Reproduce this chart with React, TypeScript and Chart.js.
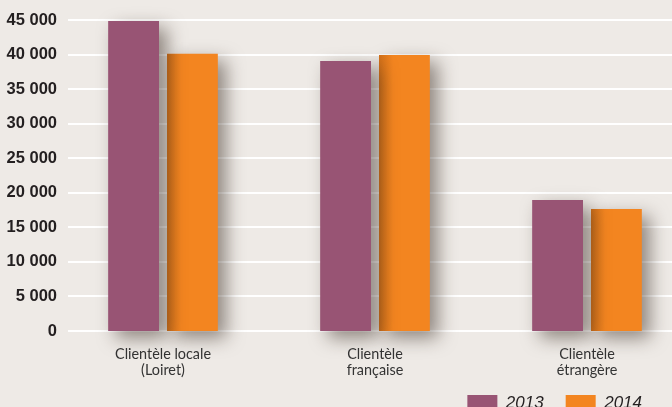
import { useEffect, useRef } from 'react';
import { Chart, registerables } from 'chart.js';

Chart.register(...registerables);

const categories: string[][] = [
  ['Clientèle locale', '(Loiret)'],
  ['Clientèle', 'française'],
  ['Clientèle', 'étrangère'],
];
const values2013 = [44850, 39050, 18950];
const values2014 = [40100, 39950, 17650];
const seriesNames = ['2013', '2014'];
const yMin = 0;
const yMax = 45000;
const yStep = 5000;

const BG = '#EEEAE6';
const PURPLE = '#985474';
const ORANGE = '#F38520';
const TEXT = '#231F20';

const fmt = (v: number) => String(v).replace(/\B(?=(\d{3})+(?!\d))/g, ' ');

const gridPlugin = {
  id: 'customGrid',
  beforeDatasetsDraw(chart: any) {
    const { ctx, scales } = chart;
    const y = scales.y;
    ctx.save();
    ctx.strokeStyle = '#FFFFFF';
    ctx.lineWidth = 2;
    y.ticks.forEach((t: any) => {
      const py = Math.round(y.getPixelForValue(t.value));
      ctx.beginPath();
      ctx.moveTo(68, py);
      ctx.lineTo(chart.width, py);
      ctx.stroke();
    });
    ctx.restore();
  },
};

const shadowPlugin = {
  id: 'barShadow',
  beforeDatasetDraw(chart: any) {
    const ctx = chart.ctx;
    ctx.save();
    ctx.shadowColor = 'rgba(50,35,25,0.5)';
    ctx.shadowBlur = 18;
    ctx.shadowOffsetX = 8;
    ctx.shadowOffsetY = 7;
  },
  afterDatasetDraw(chart: any, args: any) {
    const ctx = chart.ctx;
    ctx.restore();
    if (args.index === 1) {
      const meta = chart.getDatasetMeta(1);
      meta.data.forEach((el: any) => {
        const left = el.x - el.width / 2;
        const g = ctx.createLinearGradient(left, 0, left + 14, 0);
        g.addColorStop(0, 'rgba(90,40,0,0.22)');
        g.addColorStop(1, 'rgba(90,40,0,0)');
        ctx.save();
        ctx.fillStyle = g;
        ctx.fillRect(left, el.y, 14, el.base - el.y);
        ctx.restore();
      });
    }
  },
};

const legendPlace = {
  id: 'legendPlace',
  afterLayout(chart: any) {
    const l = chart.legend;
    if (l) {
      const h = l.height;
      l.right = 664;
      l.top = chart.chartArea.bottom + 41.5;
      l.bottom = l.top + h;
    }
  },
};

export default function App() {
  const ref = useRef<HTMLCanvasElement | null>(null);

  useEffect(() => {
    if (!ref.current) return;
    const chart = new Chart(ref.current, {
      type: 'bar',
      data: {
        labels: categories,
        datasets: [
          {
            label: seriesNames[0],
            data: values2013,
            backgroundColor: PURPLE,
            borderWidth: 0,
            categoryPercentage: 0.555,
            barPercentage: 0.864,
            clip: false as any,
          },
          {
            label: seriesNames[1],
            data: values2014,
            backgroundColor: ORANGE,
            borderWidth: 0,
            categoryPercentage: 0.555,
            barPercentage: 0.864,
            clip: false as any,
          },
        ],
      },
      options: {
        animation: false,
        responsive: false,
        devicePixelRatio: 1,
        layout: { padding: { top: 20, left: 0, right: 7, bottom: 0 } },
        plugins: {
          legend: {
            display: true,
            position: 'bottom',
            align: 'end',
            labels: {
              boxWidth: 30,
              boxHeight: 16,
              padding: 22,
              color: TEXT,
              font: { family: '"Liberation Sans", Arial, sans-serif', size: 17, style: 'italic' },
            },
          },
          tooltip: { enabled: false },
        },
        scales: {
          x: {
            type: 'category',
            offset: true,
            grid: { display: false, drawTicks: false },
            border: { display: false },
            ticks: {
              padding: 15,
              color: '#333333',
              autoSkip: false,
              maxRotation: 0,
              font: { family: 'Lato, "Open Sans", sans-serif', size: 14.4, lineHeight: 16 / 14.4 },
            },
            afterFit: (s: any) => {
              s.height = 60;
            },
          },
          y: {
            min: yMin,
            max: yMax,
            grid: { display: false, drawTicks: false },
            border: { display: false },
            ticks: {
              stepSize: yStep,
              padding: 0,
              color: TEXT,
              font: { family: '"Liberation Sans", Arial, sans-serif', size: 16.5, weight: 'bold' },
              callback: (v: any) => fmt(Number(v)),
            },
            afterFit: (s: any) => {
              s.width = 57;
            },
          },
        },
      },
      plugins: [gridPlugin, shadowPlugin, legendPlace],
    });
    return () => chart.destroy();
  }, []);

  return (
    <div
      style={{
        position: 'absolute',
        left: 0,
        top: 0,
        width: 672,
        height: 407,
        overflow: 'hidden',
        background: BG,
      }}
    >
      <canvas ref={ref} width={700} height={440} style={{ width: 700, height: 440, display: 'block' }} />
    </div>
  );
}
